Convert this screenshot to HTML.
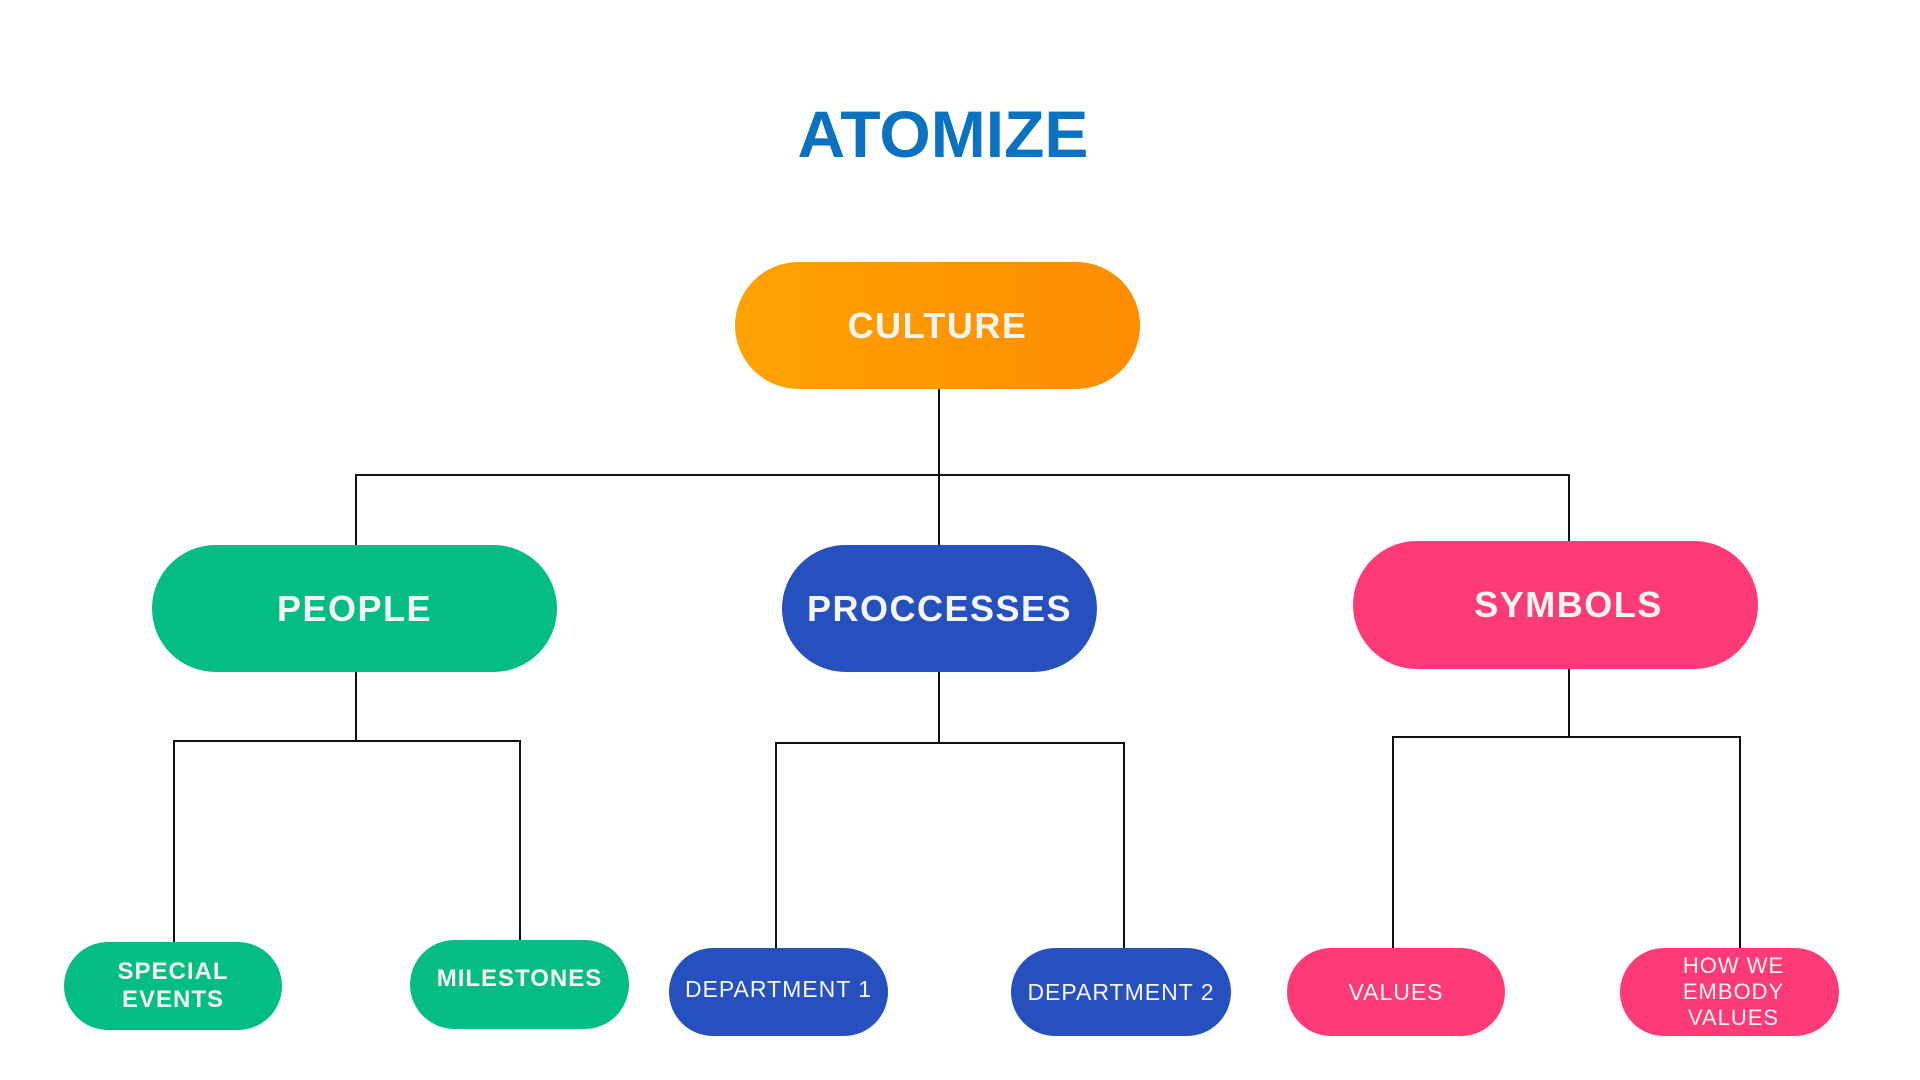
<!DOCTYPE html>
<html><head><style>
html,body{margin:0;padding:0;background:#fff;}
body{width:1920px;height:1080px;position:relative;overflow:hidden;font-family:"Liberation Sans",sans-serif;}
.t{position:absolute;left:643px;width:600px;text-align:center;top:96px;font-size:66px;font-weight:bold;color:#0a72c0;letter-spacing:0px;}
.n{position:absolute;display:flex;align-items:center;justify-content:center;text-align:center;color:#f4f4f0;border-radius:70px;letter-spacing:1px;box-sizing:border-box;}
.l{position:absolute;background:#111;}
.g{background:#03bd84}.b{background:#2650bd}.p{background:#ff3b77}
.big{font-size:36px;font-weight:bold;letter-spacing:1.5px;}
.sm{font-size:23px;letter-spacing:1px;line-height:28px;}
</style></head><body>
<div class="t">ATOMIZE</div>
<div class="l" style="left:938px;top:389px;width:2px;height:156px"></div>
<div class="l" style="left:355px;top:474px;width:1215px;height:2px"></div>
<div class="l" style="left:355px;top:474px;width:2px;height:71px"></div>
<div class="l" style="left:1568px;top:474px;width:2px;height:67px"></div>
<div class="l" style="left:355px;top:672px;width:2px;height:70px"></div>
<div class="l" style="left:173px;top:740px;width:348px;height:2px"></div>
<div class="l" style="left:173px;top:740px;width:2px;height:202px"></div>
<div class="l" style="left:519px;top:740px;width:2px;height:200px"></div>
<div class="l" style="left:938px;top:672px;width:2px;height:72px"></div>
<div class="l" style="left:775px;top:742px;width:350px;height:2px"></div>
<div class="l" style="left:775px;top:742px;width:2px;height:206px"></div>
<div class="l" style="left:1123px;top:742px;width:2px;height:206px"></div>
<div class="l" style="left:1568px;top:669px;width:2px;height:69px"></div>
<div class="l" style="left:1392px;top:736px;width:349px;height:2px"></div>
<div class="l" style="left:1392px;top:736px;width:2px;height:212px"></div>
<div class="l" style="left:1739px;top:736px;width:2px;height:212px"></div>
<div class="n big" style="left:735px;top:262px;width:405px;height:127px;background:linear-gradient(90deg,#ffa202,#ff8c00)">CULTURE</div>
<div class="n big g" style="left:152px;top:545px;width:405px;height:127px">PEOPLE</div>
<div class="n big b" style="left:782px;top:545px;width:315px;height:127px">PROCCESSES</div>
<div class="n big p" style="left:1353px;top:541px;width:405px;height:128px;padding-left:26px">SYMBOLS</div>
<div class="n sm g" style="left:64px;top:942px;width:218px;height:88px;font-weight:bold;font-size:24px">SPECIAL<br>EVENTS</div>
<div class="n sm g" style="left:410px;top:940px;width:219px;height:89px;font-weight:bold;font-size:24px;padding-bottom:12px">MILESTONES</div>
<div class="n sm b" style="left:669px;top:948px;width:219px;height:88px;padding-bottom:6px">DEPARTMENT 1</div>
<div class="n sm b" style="left:1011px;top:948px;width:220px;height:88px">DEPARTMENT 2</div>
<div class="n sm p" style="left:1287px;top:948px;width:218px;height:88px">VALUES</div>
<div class="n sm p" style="left:1620px;top:948px;width:219px;height:88px;font-size:22px;line-height:26px;padding-left:8px">HOW WE<br>EMBODY<br>VALUES</div>
</body></html>
